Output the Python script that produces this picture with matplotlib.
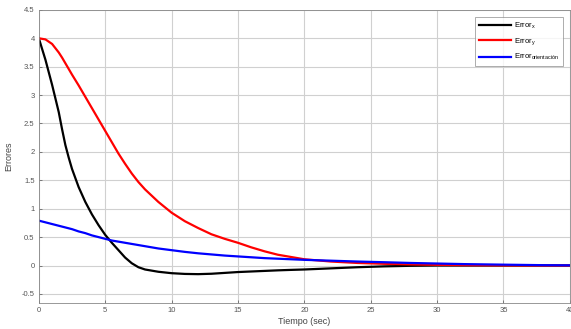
import matplotlib
matplotlib.use("Agg")
import matplotlib.pyplot as plt

plt.rcParams['font.family'] = ['Liberation Sans', 'DejaVu Sans']
plt.rcParams['mathtext.fontset'] = 'custom'
plt.rcParams['mathtext.rm'] = 'Liberation Sans'
plt.rcParams['mathtext.it'] = 'Liberation Sans'

time = [0, 0.5, 1, 1.5, 1.75, 2, 2.25, 2.5, 3, 3.5, 4, 4.5, 5, 5.5, 6, 6.5, 7, 7.5, 8, 9,
        10, 11, 12, 13, 14, 15, 16, 17, 18, 19, 20, 22, 24, 26, 28, 30, 32, 35, 38, 40]
error_x = [4.0, 3.62, 3.18, 2.70, 2.40, 2.12, 1.90, 1.70, 1.38, 1.12, 0.90, 0.71, 0.54, 0.40,
           0.27, 0.14, 0.04, -0.03, -0.07, -0.11, -0.135, -0.148, -0.152, -0.145, -0.13,
           -0.115, -0.105, -0.095, -0.085, -0.077, -0.07, -0.05, -0.03, -0.015, -0.005, 0, 0,
           0, 0, 0]
error_y = [4.0, 3.98, 3.9, 3.75, 3.66, 3.56, 3.46, 3.36, 3.17, 2.97, 2.77, 2.57, 2.37, 2.17,
           1.97, 1.79, 1.62, 1.47, 1.34, 1.12, 0.93, 0.78, 0.66, 0.55, 0.47, 0.40, 0.32, 0.25,
           0.19, 0.15, 0.11, 0.07, 0.045, 0.03, 0.02, 0.012, 0.006, 0.002, 0, 0]
error_orient = [0.79, 0.76, 0.73, 0.70, 0.685, 0.67, 0.655, 0.64, 0.60, 0.57, 0.53, 0.50,
                0.47, 0.44, 0.42, 0.40, 0.38, 0.36, 0.34, 0.30, 0.27, 0.24, 0.215, 0.195,
                0.175, 0.16, 0.145, 0.13, 0.12, 0.11, 0.10, 0.085, 0.07, 0.058, 0.045, 0.035,
                0.025, 0.015, 0.006, 0.003]
labels = [r'Error$_{\mathrm{x}}$', r'Error$_{\mathrm{y}}$', r'Error$_{\mathrm{orientación}}$']
colors = ['#000000', '#ff0000', '#0000ff']
xticks = [0, 5, 10, 15, 20, 25, 30, 35, 40]
yticks = [-0.5, 0, 0.5, 1, 1.5, 2, 2.5, 3, 3.5, 4, 4.5]
ytick_labels = ['-0.5', '0', '0.5', '1', '1.5', '2', '2.5', '3', '3.5', '4', '4.5']

fig = plt.figure(figsize=(5.71, 3.29), dpi=100)

ax = fig.add_axes([0.068, 0.079, 0.93, 0.891])
for ys, c, lab in zip([error_x, error_y, error_orient], colors, labels):
    ax.plot(time, ys, color=c, lw=1.6, label=lab)

ax.set_xlim(0, 40)
ax.set_ylim(-0.66, 4.5)
ax.set_xticks(xticks)
ax.set_yticks(yticks)
ax.set_yticklabels(ytick_labels)
ax.grid(True, color='#d0d0d0', lw=0.8)
ax.set_axisbelow(True)
ax.tick_params(labelsize=5.5, colors='#555555', length=2, width=0.5, direction='in',
               pad=3)
for s in ax.spines.values():
    s.set_color('#888888')
    s.set_linewidth(0.6)
ax.set_xlabel('Tiempo (sec)', fontsize=6.5, color='#444444', labelpad=2)
ax.set_ylabel('Errores', fontsize=6.5, color='#444444', labelpad=6)

leg = ax.legend(loc='upper right', fontsize=5.5, frameon=True, fancybox=False,
                edgecolor='#888888', borderaxespad=0.9, handlelength=4.2,
                handletextpad=0.4, labelspacing=0.7, borderpad=0.5)
leg.get_frame().set_linewidth(0.6)

fig.savefig('out.png', dpi=100)
